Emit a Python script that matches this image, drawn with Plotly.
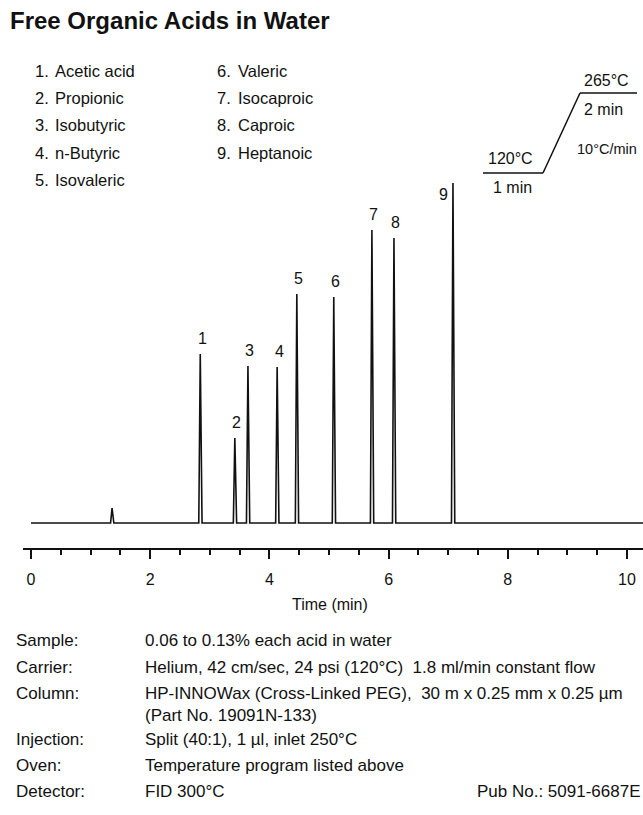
import plotly.graph_objects as go

# ---------------- data ----------------
peak_numbers = ["1", "2", "3", "4", "5", "6", "7", "8", "9"]
peak_times = [2.84, 3.42, 3.64, 4.13, 4.46, 5.08, 5.72, 6.09, 7.08]   # min
peak_heights = [169, 85, 157, 156, 229, 226, 293, 285, 340]           # detector response (a.u.)
minor_times = [1.36]
minor_heights = [15]
run_end = 10.27

compounds = ["Acetic acid", "Propionic", "Isobutyric", "n-Butyric", "Isovaleric",
             "Valeric", "Isocaproic", "Caproic", "Heptanoic"]

x_ticks = [0, 2, 4, 6, 8, 10]

cond_labels = ["Sample:", "Carrier:", "Column:", "", "Injection:", "Oven:", "Detector:"]
cond_values = ["0.06 to 0.13% each acid in water",
               "Helium, 42 cm/sec, 24 psi (120°C)  1.8 ml/min constant flow",
               "HP-INNOWax (Cross-Linked PEG),  30 m x 0.25 mm x 0.25 µm",
               "(Part No. 19091N-133)",
               "Split (40:1), 1 µl, inlet 250°C",
               "Temperature program listed above",
               "FID 300°C"]

# ---------------- figure geometry ----------------
W, H = 643, 815
FONT = "Liberation Sans, Arial, sans-serif"


def px(x):
    return x / W


def py(y):
    return 1 - y / H


# build chromatogram trace from peak table
events = sorted([(t, h) for t, h in zip(peak_times, peak_heights)] +
                [(t, h) for t, h in zip(minor_times, minor_heights)])
xs, ys = [0.0], [0.0]
for t, h in events:
    xs += [t - 0.025, t, t + 0.03]
    ys += [0, h, 0]
xs.append(run_end)
ys.append(0)

fig = go.Figure()
fig.add_trace(go.Scatter(x=xs, y=ys, mode="lines",
                         line=dict(color="#111111", width=1.6),
                         hoverinfo="skip", showlegend=False))

# peak number labels
for i, (n, t, h) in enumerate(zip(peak_numbers, peak_times, peak_heights)):
    if i == len(peak_numbers) - 1:
        fig.add_annotation(x=t, y=h, text=n, showarrow=False, xanchor="right",
                           yanchor="top", xshift=-3, yshift=-1,
                           font=dict(family=FONT, size=16, color="#111"))
    else:
        fig.add_annotation(x=t, y=h, text=n, showarrow=False, xanchor="center",
                           yanchor="bottom", xshift=2, yshift=5,
                           font=dict(family=FONT, size=16, color="#111"))

ann = []
# title
ann.append(dict(x=px(8), y=py(21), xref="paper", yref="paper", text="<b>Free Organic Acids in Water</b>",
                showarrow=False, xanchor="left", yanchor="middle",
                font=dict(family=FONT, size=24, color="#111")))
# compound list
for i, name in enumerate(compounds):
    col = 0 if i < 5 else 1
    row = i if i < 5 else i - 5
    nx = 33 if col == 0 else 215
    tx = 53 if col == 0 else 236
    yy = 71 + row * 27.2
    ann.append(dict(x=px(nx), y=py(yy), xref="paper", yref="paper", text=f"{i+1}.",
                    showarrow=False, xanchor="left", yanchor="middle",
                    font=dict(family=FONT, size=16.5, color="#111")))
    ann.append(dict(x=px(tx), y=py(yy), xref="paper", yref="paper", text=name,
                    showarrow=False, xanchor="left", yanchor="middle",
                    font=dict(family=FONT, size=16.5, color="#111")))
# temperature program
tp = [("265°C", 606, 81, 16), ("2 min", 603, 109, 16), ("10°C/min", 607, 149, 14.5),
      ("120°C", 510, 158, 16), ("1 min", 512, 187, 16)]
for txt, x, y, s in tp:
    ann.append(dict(x=px(x), y=py(y), xref="paper", yref="paper", text=txt,
                    showarrow=False, xanchor="center", yanchor="middle",
                    font=dict(family=FONT, size=s, color="#111")))
# conditions
row_y = [640, 667, 693, 715, 739, 765, 791]
for lab, val, y in zip(cond_labels, cond_values, row_y):
    if lab:
        ann.append(dict(x=px(14), y=py(y), xref="paper", yref="paper", text=lab,
                        showarrow=False, xanchor="left", yanchor="middle",
                        font=dict(family=FONT, size=17, color="#111")))
    ann.append(dict(x=px(143), y=py(y), xref="paper", yref="paper", text=val,
                    showarrow=False, xanchor="left", yanchor="middle",
                    font=dict(family=FONT, size=17, color="#111")))
ann.append(dict(x=px(643), y=py(791), xref="paper", yref="paper", text="Pub No.: 5091-6687E",
                showarrow=False, xanchor="right", yanchor="middle",
                font=dict(family=FONT, size=17, color="#111")))
# axis title
ann.append(dict(x=px(330), y=py(604), xref="paper", yref="paper", text="Time (min)",
                showarrow=False, xanchor="center", yanchor="middle",
                font=dict(family=FONT, size=16, color="#111")))
for a in ann:
    fig.add_annotation(**a)

# temperature program lines
lines = [((483, 173), (543, 173)), ((543, 173), (580, 93)), ((580, 93), (637, 93))]
for (x0, y0), (x1, y1) in lines:
    fig.add_shape(type="line", xref="paper", yref="paper",
                  x0=px(x0), y0=py(y0), x1=px(x1), y1=py(y1),
                  line=dict(color="#111", width=1.5))

# axes: x axis line at px 548, 59.6 px/min, t=0 at px 31
ppm = 59.6
x_left_px = 23
x_range = [(x_left_px - 31) / ppm, (W - 31) / ppm]
fig.update_xaxes(domain=[px(x_left_px), 1], range=x_range,
                 showline=True, linecolor="#111", linewidth=2,
                 showgrid=False, zeroline=False,
                 tickmode="array", tickvals=x_ticks, ticktext=[str(v) for v in x_ticks],
                 ticks="outside", ticklen=9, tickwidth=2, tickcolor="#111",
                 ticklabelstandoff=7,
                 minor=dict(dtick=0.5, tick0=0, ticks="outside", ticklen=5, tickwidth=2,
                            tickcolor="#111", showgrid=False),
                 tickfont=dict(family=FONT, size=16, color="#111"),
                 fixedrange=True)
fig.update_yaxes(domain=[py(548), py(170)], range=[-25, 353], visible=False,
                 showgrid=False, zeroline=False, fixedrange=True)

fig.update_layout(width=W, height=H, margin=dict(l=0, r=0, t=0, b=0),
                  paper_bgcolor="white", plot_bgcolor="white", showlegend=False)

fig.write_html("out.html", config={"displayModeBar": False},
               post_script="document.body.style.margin='0px';document.body.style.overflow='hidden';")
